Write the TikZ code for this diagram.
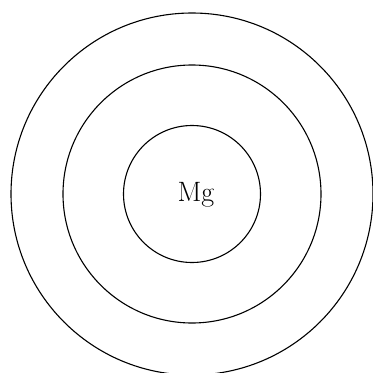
\documentclass[tikz,border=0pt]{standalone}
\begin{document}
\begin{tikzpicture}[
  x=1pt, y=-1pt,
  shell/.style={draw, circle, inner sep=0pt, line width=1.1pt},
  atom/.style={font=\fontsize{28}{30}\selectfont, inner sep=0pt}
]
\useasboundingbox (0,0) rectangle (373,373);
\coordinate (nucleus) at (192,194);
\node[shell, minimum size=137pt] (first) at (nucleus) {};
\node[shell, minimum size=258pt] (second) at (nucleus) {};
\node[shell, minimum size=362pt] (third) at (nucleus) {};
\node[atom] (mg) at (196,195) {Mg};
\end{tikzpicture}
\end{document}
